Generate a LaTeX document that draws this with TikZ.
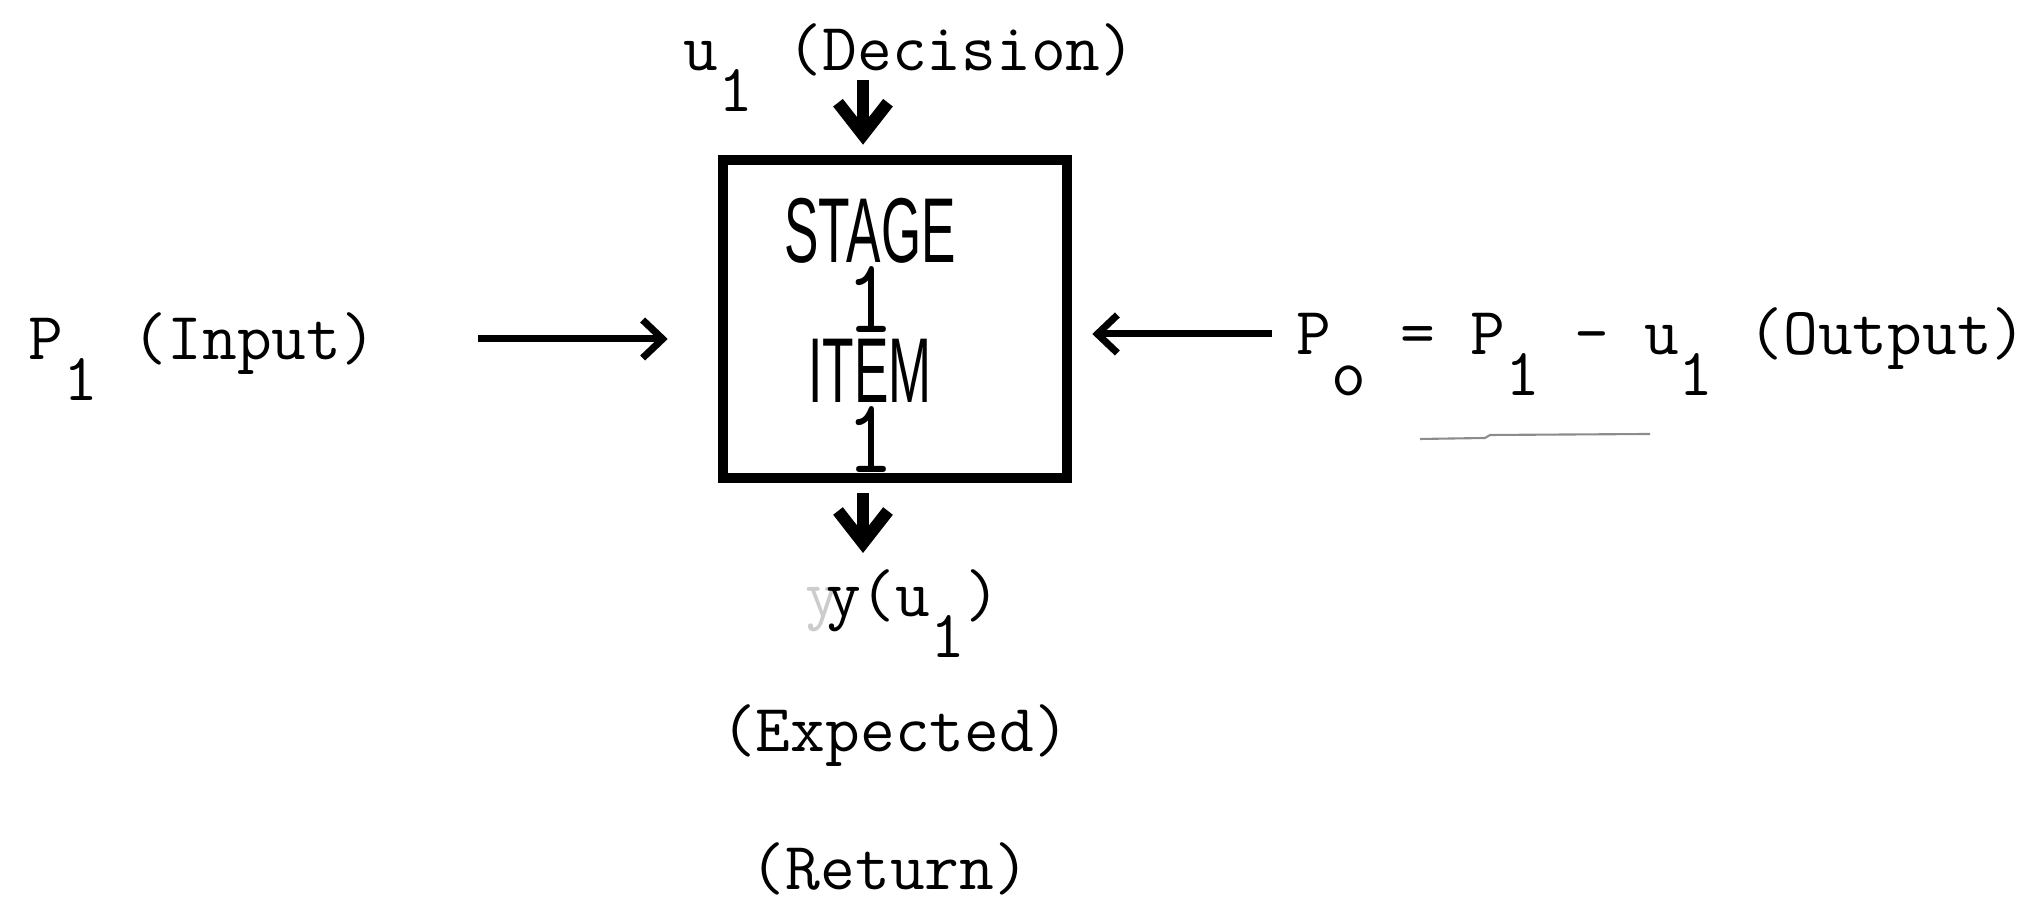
\documentclass[tikz,border=0pt]{standalone}
\usepackage{fontspec}
\usepackage{tikz}
\usetikzlibrary{arrows.meta,positioning,calc}
\newfontfamily\lettering[FakeStretch=0.56]{Liberation Sans}
\newcommand{\dn}[1]{\raisebox{-0.6em}{#1}}
\newcommand{\tallone}{\scalebox{1}[1.15]{\ttfamily 1}}

\begin{document}
\begin{tikzpicture}[
  every node/.style={inner sep=0pt},
  typed/.style={font=\ttfamily\fontsize{19.2}{22}\selectfont},
  hand/.style={font=\lettering\fontsize{26.2}{19.9}\selectfont, align=center},
  stagebox/.style={draw, line width=3pt, minimum width=3.44cm,
                   minimum height=3.18cm},
  flow/.style={-{Straight Barb[length=2mm,width=3.8mm]}, line width=2pt},
  drop/.style={-{Straight Barb[length=3.2mm,width=5mm]}, line width=3.5pt},
  scribble/.style={black!45, line width=0.6pt}
]
\useasboundingbox (0,0) rectangle (20.29,9.10);

\node[stagebox] (box) at (8.95,5.91) {};
\node[hand] (stage) at (8.70,5.75) {STAGE\\\tallone\\ITEM\\\tallone};

\node[typed, anchor=base west] (decision) at (6.83,8.39) {u\dn{1} (Decision)};
\node[typed, anchor=base west] (input) at (0.28,5.50) {P\dn{1} (Input)};
\node[typed, anchor=base west] (output) at (12.96,5.55)
  {P\dn{o} = P\dn{1} - u\dn{1} (Output)};
\node[typed, anchor=base] (yu) at (9.13,2.93) {\llap{\color{black!20}y\kern-4pt}y(u\dn{1})};
\node[typed, anchor=base] (expected) at (8.95,1.58) {(Expected)};
\node[typed, anchor=base] (return) at (8.90,0.20) {(Return)};

\coordinate (dec) at (8.63,8.30);
\coordinate (ret) at (8.63,3.57);
\coordinate (inarrow) at (4.78,5.71);
\coordinate (outarrow) at (12.72,5.76);

\draw[drop, shorten >=0.1cm] (dec) -- (dec |- box.north);
\draw[drop, shorten <=0.1cm] (box.south -| ret) -- (ret);
\draw[flow, shorten >=0.5cm] (inarrow) -- (inarrow -| box.west);
\draw[flow, shorten >=0.2cm] (outarrow) -- (outarrow -| box.east);

% pen stroke under the output label
\draw[scribble] (14.2,4.71) -- (14.85,4.72) -- (14.9,4.75) -- (16.5,4.76);
\end{tikzpicture}
\end{document}
